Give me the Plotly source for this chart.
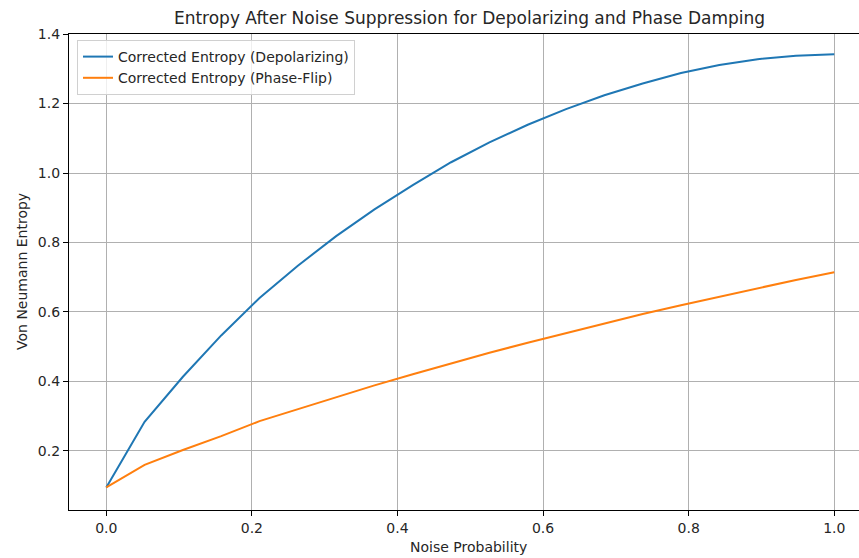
import plotly.graph_objects as go

noise_prob = [i / 19 for i in range(20)]
depolarizing = [0.094, 0.283, 0.413, 0.532, 0.640, 0.733, 0.818, 0.895, 0.965, 1.031,
                1.088, 1.139, 1.184, 1.224, 1.258, 1.288, 1.311, 1.328, 1.338, 1.342]
phase_flip = [0.094, 0.159, 0.202, 0.242, 0.285, 0.320, 0.354, 0.388, 0.420, 0.452,
              0.482, 0.511, 0.539, 0.567, 0.594, 0.619, 0.644, 0.668, 0.692, 0.714]
x_ticks = [0.0, 0.2, 0.4, 0.6, 0.8, 1.0]
y_ticks = [0.2, 0.4, 0.6, 0.8, 1.0, 1.2, 1.4]

FONT = "DejaVu Sans, sans-serif"
TXT = "#262626"

W, H = 859, 558
ML, MR, MT, MB = 69, 0, 34, 48
PW, PH = W - ML - MR, H - MT - MB

fig = go.Figure()
fig.add_trace(go.Scatter(x=noise_prob, y=depolarizing, mode="lines",
                         name="Corrected Entropy (Depolarizing)",
                         line=dict(color="#1f77b4", width=2)))
fig.add_trace(go.Scatter(x=noise_prob, y=phase_flip, mode="lines",
                         name="Corrected Entropy (Phase-Flip)",
                         line=dict(color="#ff7f0e", width=2)))

fig.update_layout(
    width=W, height=H,
    margin=dict(l=ML, r=MR, t=MT, b=MB, autoexpand=False),
    paper_bgcolor="white", plot_bgcolor="white",
    font=dict(family=FONT, size=14, color=TXT),
    title=dict(text="Entropy After Noise Suppression for Depolarizing and Phase Damping",
               x=(469.5 - ML) / PW, xref="paper", xanchor="center",
               y=1 - 18 / H, yref="container", yanchor="middle",
               font=dict(size=17, color=TXT), automargin=False),
    showlegend=True,
    legend=dict(x=(77 - ML) / PW, y=1 - (40 - MT) / PH, xanchor="left", yanchor="top",
                bgcolor="rgba(255,255,255,0.8)", bordercolor="#d0d0d0", borderwidth=1,
                font=dict(size=14, color=TXT), itemwidth=30, tracegroupgap=0),
    annotations=[
        dict(text="Noise Probability", x=(468 - ML) / PW, y=-(547 - (H - MB)) / PH,
             xref="paper", yref="paper", showarrow=False, xanchor="center",
             yanchor="middle", font=dict(size=14, color=TXT)),
        dict(text="Von Neumann Entropy", x=-(ML - 22) / PW, y=1 - (272 - MT) / PH,
             xref="paper", yref="paper", showarrow=False, xanchor="center",
             yanchor="middle", textangle=-90, font=dict(size=14, color=TXT)),
    ],
)
fig.update_xaxes(
    range=[-0.0512, 1.034], tickvals=x_ticks, ticktext=[f"{v:.1f}" for v in x_ticks],
    showgrid=True, gridcolor="#b0b0b0", gridwidth=1, zeroline=False,
    showline=True, linecolor="black", linewidth=1.2, mirror=True,
    ticks="outside", ticklen=5, tickcolor="black", automargin=False,
)
fig.update_yaxes(
    range=[0.029, 1.4005], tickvals=y_ticks, ticktext=[f"{v:.1f}" for v in y_ticks],
    showgrid=True, gridcolor="#b0b0b0", gridwidth=1, zeroline=False,
    showline=True, linecolor="black", linewidth=1.2, mirror=False,
    ticks="outside", ticklen=5, tickcolor="black", automargin=False,
)
fig.write_html("out.html", config={"displayModeBar": False},
               post_script="document.body.style.margin='0';document.body.style.overflow='hidden';")
